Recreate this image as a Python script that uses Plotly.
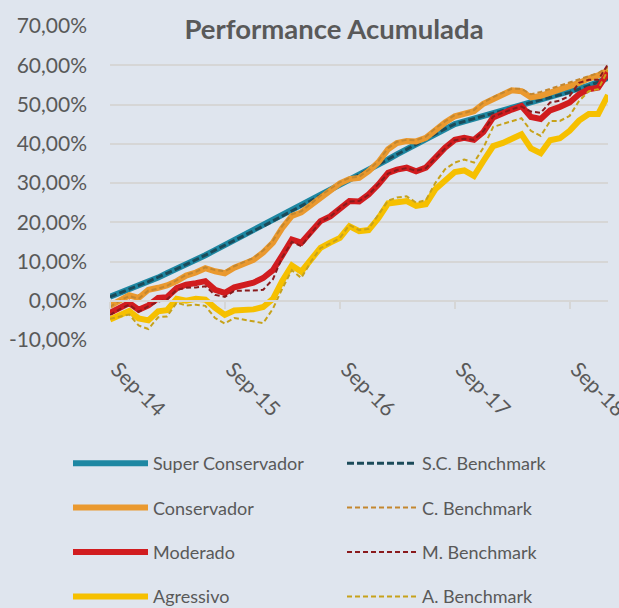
import pandas as pd
import plotly.graph_objects as go

# ---------------- data (cumulative performance, %) ----------------
months = [d.strftime("%Y-%m-%d") for d in pd.date_range("2014-09-01", periods=53, freq="MS")]

super_conservador = [1.0, 1.9, 2.9, 3.9, 4.9, 5.9, 7.0, 8.1, 9.2, 10.4, 11.6, 12.9, 14.2,
                     15.4, 16.6, 17.8, 19.0, 20.3, 21.6, 22.9, 24.2, 25.5, 26.8, 28.1, 29.5,
                     30.8, 32.1, 33.4, 34.7, 36.0, 37.3, 38.6, 39.9, 41.2, 42.5, 43.8, 45.0,
                     45.7, 46.4, 47.1, 47.8, 48.5, 49.2, 49.9, 50.6, 51.2, 51.8, 52.4, 53.1,
                     53.9, 54.8, 55.7, 56.8]
sc_benchmark = [1.0, 1.9, 2.9, 3.9, 4.9, 5.9, 7.0, 8.1, 9.2, 10.4, 11.6, 12.9, 14.2,
                15.4, 16.6, 17.8, 19.0, 20.3, 21.6, 22.9, 24.2, 25.5, 26.8, 28.1, 29.5,
                30.8, 32.1, 33.4, 34.7, 36.0, 37.3, 38.6, 39.9, 41.2, 42.5, 43.8, 45.0,
                45.7, 46.4, 47.1, 47.8, 48.5, 49.2, 49.9, 50.6, 51.2, 51.8, 52.4, 53.1,
                53.9, 54.8, 55.7, 56.8]
conservador = [-1.3, 0.2, 1.4, 0.7, 2.8, 3.3, 3.9, 5.0, 6.4, 7.2, 8.3, 7.5, 7.0,
               8.4, 9.3, 10.4, 12.3, 14.8, 18.5, 21.6, 22.5, 24.4, 26.5, 28.3, 29.9,
               31.0, 31.3, 33.0, 35.3, 38.6, 40.2, 40.7, 40.6, 41.5, 43.6, 45.4, 47.0,
               47.5, 48.3, 50.2, 51.5, 52.6, 53.6, 53.4, 51.8, 52.2, 53.0, 53.8, 54.5,
               55.5, 56.6, 57.4, 58.7]
c_benchmark = [-1.6, 0.0, 1.2, 0.5, 2.6, 3.1, 3.8, 5.2, 6.6, 7.4, 8.5, 7.8, 7.5,
               8.8, 9.8, 10.9, 12.8, 15.3, 19.0, 22.0, 22.8, 24.7, 26.8, 28.6, 30.2,
               31.3, 31.6, 33.3, 35.6, 38.9, 40.5, 41.0, 40.9, 41.8, 43.9, 45.7, 47.3,
               47.8, 48.6, 50.5, 51.9, 53.0, 54.0, 54.0, 52.6, 53.2, 54.0, 54.8, 55.5,
               56.3, 57.2, 58.0, 59.5]
moderado = [-3.1, -1.8, -0.6, -2.3, -1.2, 0.7, 0.9, 3.2, 4.1, 4.5, 5.0, 2.8, 2.0,
            3.4, 4.0, 4.6, 5.8, 7.8, 11.5, 15.6, 14.8, 17.5, 20.3, 21.5, 23.7,
            25.4, 25.3, 27.1, 29.6, 32.6, 33.4, 33.9, 33.0, 33.9, 36.4, 39.0, 41.0,
            41.5, 41.0, 43.0, 46.7, 47.9, 48.7, 49.6, 46.8, 46.3, 48.5, 49.4, 50.5,
            52.6, 53.9, 54.3, 58.1]
m_benchmark = [-3.6, -2.2, -1.0, -2.8, -1.4, -0.2, 0.3, 2.8, 3.3, 3.4, 3.7, 1.5, 1.0,
               2.5, 2.6, 2.6, 2.8, 5.5, 11.0, 15.0, 13.9, 17.2, 20.2, 21.4, 23.6,
               25.3, 25.4, 27.0, 29.6, 32.4, 33.3, 33.8, 33.1, 33.8, 36.3, 38.8, 40.9,
               41.3, 41.0, 43.2, 46.9, 48.0, 48.8, 49.5, 48.2, 47.9, 50.5, 51.0, 52.2,
               55.5, 56.3, 56.3, 60.3]
agressivo = [-4.8, -3.8, -2.6, -4.5, -5.0, -2.7, -2.4, 0.5, 0.0, 0.5, 0.3, -1.8, -3.6,
             -2.5, -2.3, -2.2, -1.6, 0.5, 5.0, 9.0, 7.4, 10.8, 13.5, 14.8, 16.0,
             19.0, 17.7, 18.0, 21.0, 24.8, 25.0, 25.4, 24.2, 24.6, 28.4, 30.8, 32.8,
             33.2, 31.8, 35.6, 39.4, 40.2, 41.3, 42.4, 38.8, 37.6, 40.9, 41.4, 43.3,
             45.9, 47.6, 47.6, 52.4]
a_benchmark = [-4.6, -4.0, -3.5, -6.3, -7.2, -4.2, -4.0, -0.5, -1.2, -1.0, -1.3, -4.4, -5.8,
               -4.4, -4.8, -5.2, -5.7, -2.0, 3.0, 7.8, 5.8, 10.0, 13.4, 14.6, 16.0,
               19.3, 18.0, 18.3, 22.0, 25.5, 26.3, 26.6, 25.0, 25.6, 30.0, 33.5, 35.2,
               36.0, 35.2, 39.0, 44.3, 45.0, 45.8, 46.5, 43.3, 42.0, 45.8, 45.8, 47.1,
               50.9, 53.4, 53.9, 58.8]

y_tickvals = [-10, 0, 10, 20, 30, 40, 50, 60, 70]
y_ticktext = ["-10,00%", "0,00%", "10,00%", "20,00%", "30,00%", "40,00%",
              "50,00%", "60,00%", "70,00%"]
x_tickvals = ["2014-09-01", "2015-09-01", "2016-09-01", "2017-09-01", "2018-09-01"]
x_ticktext = ["Sep-14", "Sep-15", "Sep-16", "Sep-17", "Sep-18"]

TEXT = "#595959"
GRID = "#d6d6d6"
FONT = "Lato"

series = [
    ("Super Conservador", super_conservador, "#1e87a2", 6, "solid", "legend", "g1"),
    ("S.C. Benchmark", sc_benchmark, "#1b4a59", 3, "7px,3px", "legend2", "g5"),
    ("Conservador", conservador, "#ea992f", 6, "solid", "legend", "g2"),
    ("C. Benchmark", c_benchmark, "#c4872f", 2, "5px,3px", "legend2", "g6"),
    ("Moderado", moderado, "#d11c1f", 6, "solid", "legend", "g3"),
    ("M. Benchmark", m_benchmark, "#8a1a1c", 2, "5px,3px", "legend2", "g7"),
    ("Agressivo", agressivo, "#f6c000", 6, "solid", "legend", "g4"),
    ("A. Benchmark", a_benchmark, "#c7a21a", 2, "5px,3px", "legend2", "g8"),
]

fig = go.Figure()
for name, vals, color, width, dash, leg, grp in series:
    fig.add_trace(go.Scatter(
        x=months, y=vals, name=name, mode="lines",
        line=dict(color=color, width=width, dash=dash),
        legend=leg, legendgroup=grp, hoverinfo="skip",
    ))

# helper trace for the tick axis drawn at the 0% line
fig.add_trace(go.Scatter(x=[months[0], months[-1]], y=[None, None], xaxis="x2",
                         showlegend=False, hoverinfo="skip", mode="lines"))

legend_common = dict(
    orientation="v", xref="container", yref="container", xanchor="left",
    yanchor="top", bgcolor="rgba(0,0,0,0)", borderwidth=0,
    font=dict(family=FONT, size=18, color=TEXT), tracegroupgap=18,
    traceorder="grouped",
)

fig.update_layout(
    width=619, height=608, autosize=False,
    margin=dict(l=110, r=11, t=26, b=268, pad=0, autoexpand=False),
    paper_bgcolor="#dfe5ee", plot_bgcolor="rgba(0,0,0,0)",
    font=dict(family=FONT, color=TEXT),
    title=dict(text="<b>Performance Acumulada</b>", x=334 / 619, xref="container",
               xanchor="center", y=1 - 29 / 608, yref="container", yanchor="middle",
               font=dict(family=FONT, size=27.5, color=TEXT)),
    yaxis=dict(range=[-10, 70], tickvals=y_tickvals, ticktext=y_ticktext,
               showgrid=True, gridcolor=GRID, gridwidth=2, zeroline=False,
               showline=False, ticks="", ticklabelstandoff=22, automargin=False,
               tickfont=dict(family=FONT, size=21, color=TEXT)),
    xaxis=dict(type="date", range=[months[0], months[-1]], tickvals=x_tickvals,
               ticktext=x_ticktext, tickangle=45, showgrid=False, zeroline=False,
               showline=False, ticks="", ticklabelstandoff=12, ticklabelshift=7,
               automargin=False, ticklabeloverflow="allow",
               tickfont=dict(family=FONT, size=21, color=TEXT)),
    xaxis2=dict(type="date", overlaying="x", anchor="free", position=0.125,
                range=[months[0], months[-1]], tickvals=x_tickvals,
                showticklabels=False, showgrid=False, zeroline=False, automargin=False,
                showline=True, linecolor=GRID, linewidth=2,
                ticks="outside", ticklen=7, tickwidth=2, tickcolor=GRID),
    legend=dict(x=68 / 619, y=1 - 445 / 608, itemwidth=75, **legend_common),
    legend2=dict(x=342 / 619, y=1 - 445 / 608, itemwidth=70, **legend_common),
    showlegend=True,
)

fig.write_html("out.html",
               config={"displayModeBar": False},
               post_script="document.body.style.margin='0px';"
                           "document.body.style.overflow='hidden';")
